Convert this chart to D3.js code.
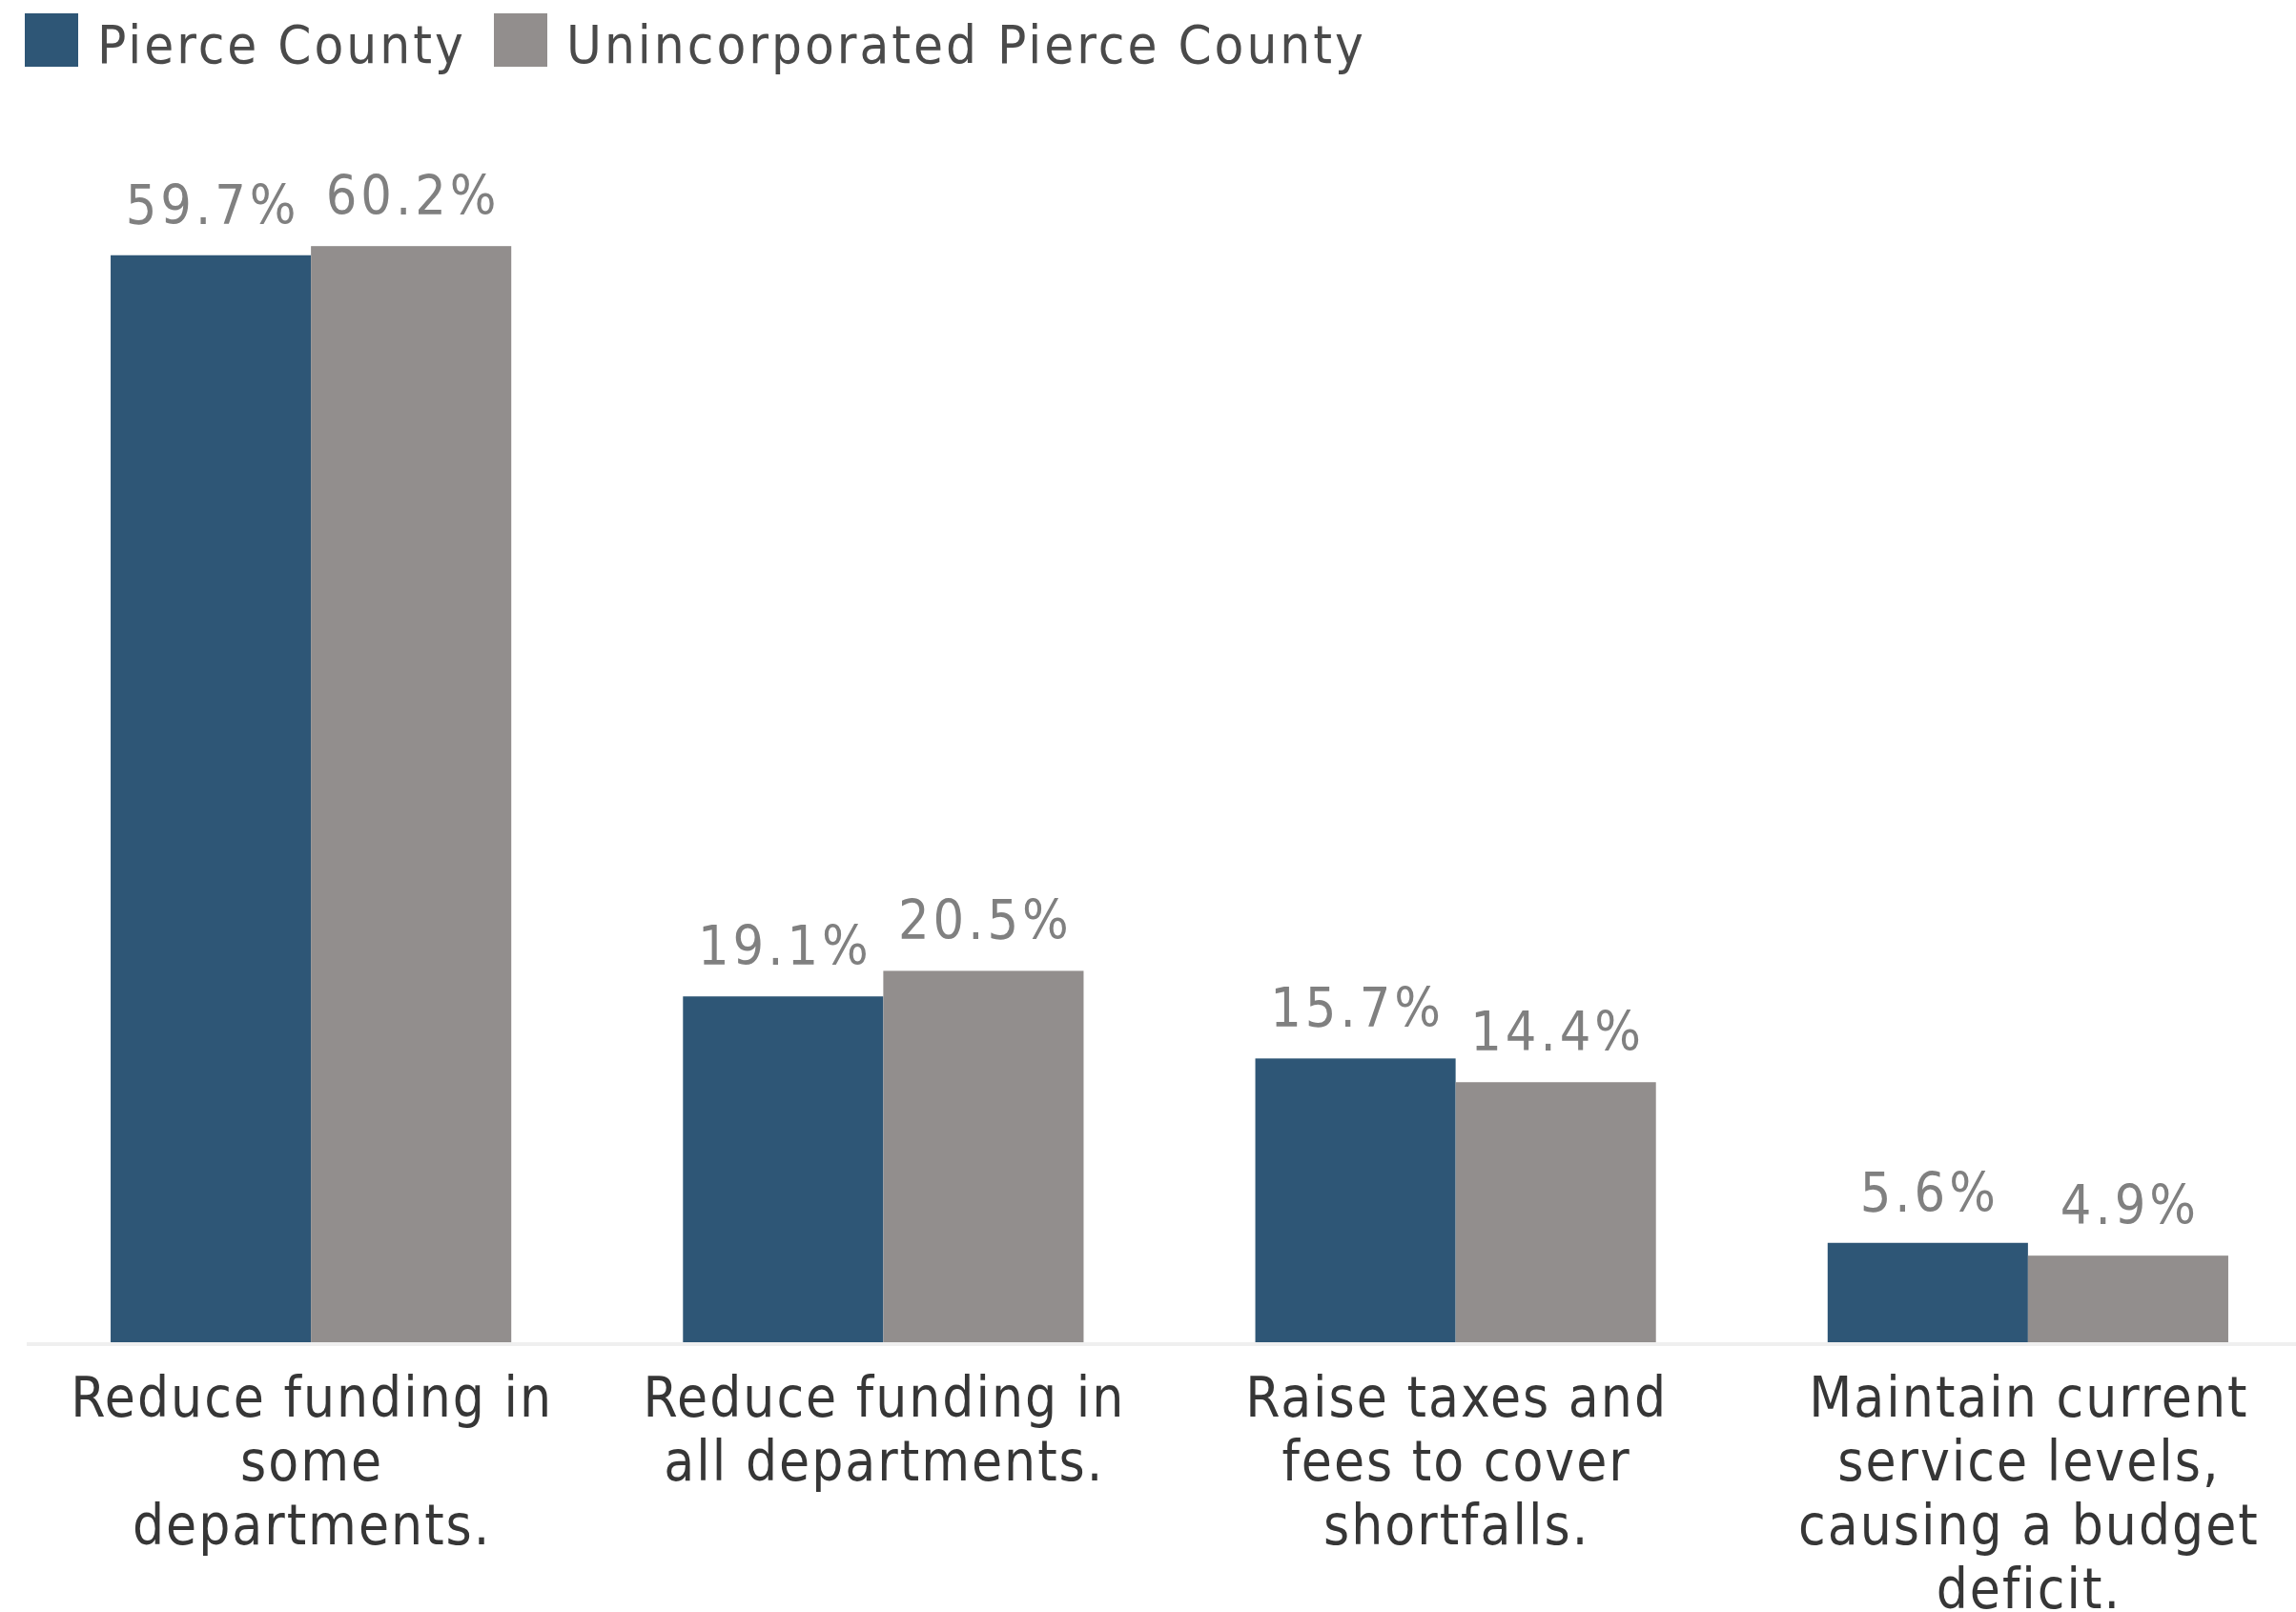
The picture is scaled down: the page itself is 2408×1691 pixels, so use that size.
<!DOCTYPE html>
<html>
<head>
<meta charset="utf-8">
<script src="https://cdn.jsdelivr.net/npm/d3@7"></script>
<style>
  html, body { margin: 0; padding: 0; background: #ffffff; }
  svg { display: block; }
  text { font-family: "DejaVu Sans Condensed", "DejaVu Sans", sans-serif; font-stretch: condensed; }
</style>
</head>
<body>
<svg id="chart" width="2408" height="1691"></svg>
<script>
const categories = [
  "Reduce funding in\nsome\ndepartments.",
  "Reduce funding in\nall departments.",
  "Raise taxes and\nfees to cover\nshortfalls.",
  "Maintain current\nservice levels,\ncausing a budget\ndeficit."
];
const seriesNames = ["Pierce County", "Unincorporated Pierce County"];
const pierceCounty = [59.7, 19.1, 15.7, 5.6];
const unincorporated = [60.2, 20.5, 14.4, 4.9];
const seriesColors = ["#2e5676", "#928e8d"];

const svg = d3.select("#chart");
const W = 2408, H = 1691;
const zeroY = 1411;
const pxPerPct = 19.15;

const x = d3.scaleBand()
  .domain(d3.range(categories.length))
  .range([26, 2427])
  .paddingInner(0.3)
  .paddingOuter(0.15);

const xSub = d3.scaleBand()
  .domain([0, 1])
  .range([0, x.bandwidth()])
  .padding(0);

const y = d3.scaleLinear()
  .domain([0, 70])
  .range([zeroY, zeroY - 70 * pxPerPct]);

const data = [];
categories.forEach((c, i) => {
  [pierceCounty, unincorporated].forEach((s, j) => {
    data.push({ cat: i, series: j, value: s[i] });
  });
});

// bars
svg.append("g").selectAll("rect")
  .data(data)
  .join("rect")
  .attr("x", d => x(d.cat) + xSub(d.series))
  .attr("width", xSub.bandwidth())
  .attr("y", d => y(d.value))
  .attr("height", d => y(0) - y(d.value))
  .attr("fill", d => seriesColors[d.series]);

// baseline
svg.append("line")
  .attr("x1", 28).attr("x2", W)
  .attr("y1", zeroY - 1).attr("y2", zeroY - 1)
  .attr("stroke", "#efefef")
  .attr("stroke-width", 4);

// value labels
const valLS = 4;
svg.append("g").selectAll("text")
  .data(data)
  .join("text")
  .attr("x", d => x(d.cat) + xSub(d.series) + xSub.bandwidth() / 2 + valLS / 2)
  .attr("y", d => y(d.value) - 33)
  .attr("text-anchor", "middle")
  .attr("font-size", 57)
  .attr("letter-spacing", valLS)
  .attr("fill", "#808080")
  .text(d => d.value.toFixed(1) + "%");

// category labels
const catLS = 2;
const catG = svg.append("g");
categories.forEach((c, i) => {
  const t = catG.append("text")
    .attr("text-anchor", "middle")
    .attr("font-size", 58)
    .attr("letter-spacing", catLS)
    .attr("fill", "#363636");
  c.split("\n").forEach((line, k) => {
    t.append("tspan")
      .attr("x", x(i) + x.bandwidth() / 2 + catLS / 2)
      .attr("y", 1486 + k * 67)
      .text(line);
  });
});

// legend
const legend = svg.append("g");
const legendX = [26, 518];
seriesNames.forEach((name, j) => {
  legend.append("rect")
    .attr("x", legendX[j]).attr("y", 14)
    .attr("width", 56).attr("height", 56)
    .attr("fill", seriesColors[j]);
  legend.append("text")
    .attr("x", legendX[j] + 76)
    .attr("y", 66)
    .attr("font-size", 56)
    .attr("letter-spacing", 3)
    .attr("fill", "#4a4a4a")
    .text(name);
});
</script>
</body>
</html>
